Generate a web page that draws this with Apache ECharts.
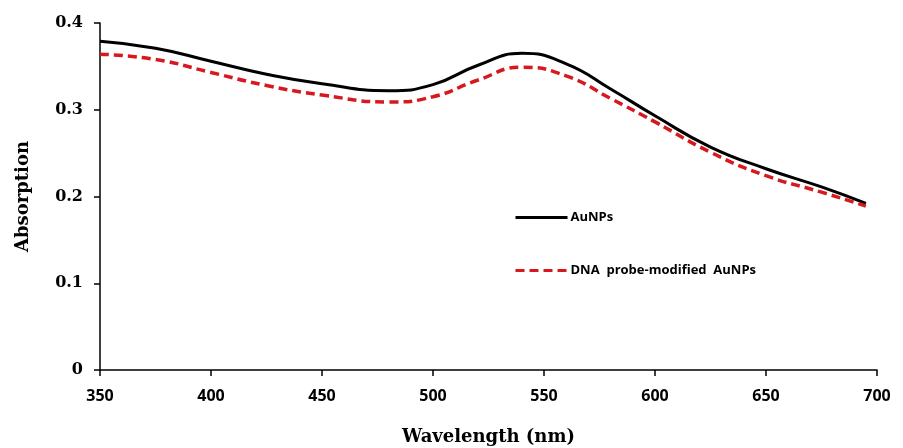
<!DOCTYPE html>
<html><head><meta charset="utf-8">
<script src="https://cdn.jsdelivr.net/npm/echarts@6/dist/echarts.min.js"></script>
<style>html,body{margin:0;padding:0;background:#fff}#c{width:903px;height:448px}</style>
</head><body><div id="c"></div>
<script>
const wavelengths = [350,375,400,425,450,480,500,520,540,560,580,600,625,650,675,695];
const aunps = [0.379,0.371,0.356,0.341,0.330,0.322,0.329,0.351,0.365,0.353,0.324,0.293,0.257,0.232,0.211,0.192];
const dnaProbe = [0.364,0.358,0.343,0.328,0.317,0.309,0.315,0.334,0.349,0.339,0.313,0.286,0.251,0.224,0.205,0.189];
const seriesNames = ['AuNPs','DNA  probe-modified  AuNPs'];
const xTitle = 'Wavelength (nm)';
const yTitle = 'Absorption';

const chart = echarts.init(document.getElementById('c'));
chart.setOption({
  animation:false,
  grid:{left:100,right:26,top:23,bottom:78,outerBoundsMode:'none',containLabel:false},
  legend:{
    orient:'vertical', left:509, top:206, itemWidth:52, itemHeight:14, itemGap:40,
    itemStyle:{opacity:0},
    lineStyle:{width:3},
    textStyle:{fontFamily:'Open Sans',fontWeight:'bold',fontSize:13,color:'#000',padding:[0,0,0,-2]},
    data:seriesNames
  },
  xAxis:{
    type:'value', min:350, max:700, interval:50,
    name:xTitle, nameLocation:'middle', nameGap:58,
    nameTextStyle:{fontFamily:'DejaVu Serif',fontWeight:'bold',fontSize:18,color:'#000'},
    axisLine:{lineStyle:{color:'#000',width:1.5}},
    axisTick:{show:true,length:6,lineStyle:{color:'#000',width:1.5}},
    axisLabel:{fontFamily:'Open Sans',fontWeight:'bold',fontSize:16,color:'#000',margin:18},
    splitLine:{show:false}
  },
  yAxis:{
    type:'value', min:0, max:0.4, interval:0.1,
    name:yTitle, nameLocation:'middle', nameGap:68, nameRotate:90,
    nameTextStyle:{fontFamily:'DejaVu Serif',fontWeight:'bold',fontSize:18,color:'#000'},
    axisLine:{show:true,lineStyle:{color:'#000',width:1.5}},
    axisTick:{show:true,length:6,lineStyle:{color:'#000',width:1.5}},
    axisLabel:{fontFamily:'DejaVu Serif',fontWeight:'bold',fontSize:16,color:'#000',margin:17,
      formatter:v=>v===0?'0':v.toFixed(1)},
    splitLine:{show:false}
  },
  series:[
    {name:seriesNames[0],type:'line',smooth:0.5,symbol:'none',
     data:wavelengths.map((w,i)=>[w,aunps[i]]),
     lineStyle:{color:'#000',width:3},itemStyle:{color:'#000'}},
    {name:seriesNames[1],type:'line',smooth:0.5,symbol:'none',
     data:wavelengths.map((w,i)=>[w,dnaProbe[i]]),
     lineStyle:{color:'#d7191f',width:3.5,type:[9,5]},itemStyle:{color:'#d7191f'}}
  ]
});
</script></body></html>
